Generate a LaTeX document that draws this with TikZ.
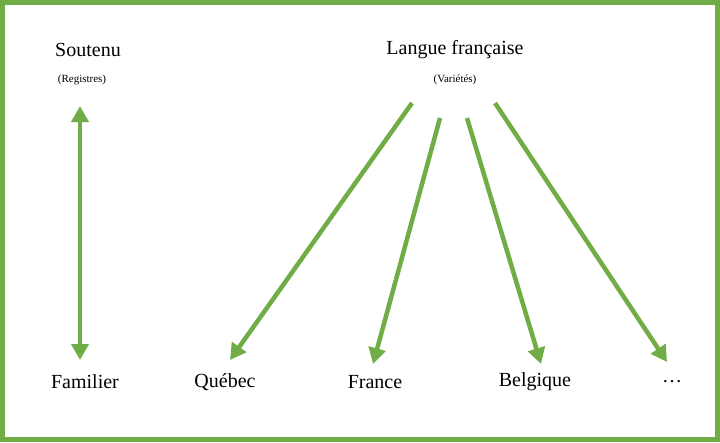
\documentclass[tikz,border=0pt]{standalone}
\usepackage{fontspec}
\setmainfont{Liberation Serif}
\usetikzlibrary{arrows.meta}
\definecolor{grn}{HTML}{70AD47}
\begin{document}
\begin{tikzpicture}[x=1pt,y=-1pt,
  lbl/.style={font=\fontsize{20}{24}\selectfont,inner sep=0pt},
  sub/.style={font=\fontsize{11}{13}\selectfont,inner sep=0pt},
  arr/.style={draw=grn,line width=4.5pt,-{Triangle[length=16pt,width=17pt]}},
  darr/.style={draw=grn,line width=4.5pt,{Triangle[length=16pt,width=17pt]}-{Triangle[length=16pt,width=17pt]}}]
\useasboundingbox (0,0) rectangle (720,442);
\draw[grn,line width=5pt] (2.5,2.5) rectangle (717.5,439.5);
\node[lbl] (sout) at (88,50) {Soutenu};
\node[sub] (reg) at (82,80) {(Registres)};
\node[lbl] (lang) at (455,50) {Langue française};
\node[sub] (var) at (455,80) {(Variétés)};
\node[lbl] (fam) at (85,382) {Familier};
\node[lbl] (que) at (225,382) {Québec};
\node[lbl] (fra) at (375,382) {France};
\node[lbl] (bel) at (535,382) {Belgique};
\node[lbl] (etc) at (672,382) {…};
\coordinate (s1) at (412,103);
\coordinate (s2) at (440,118);
\coordinate (s3) at (467,118);
\coordinate (s4) at (495,103);
\coordinate (e1) at (230,360);
\coordinate (e2) at (373,364);
\coordinate (e3) at (541,364);
\coordinate (e4) at (667,362);
\coordinate (d1) at (80,106);
\coordinate (d2) at (80,360);
\draw[darr] (d1) -- (d2);
\draw[arr] (s1) -- (e1);
\draw[arr] (s2) -- (e2);
\draw[arr] (s3) -- (e3);
\draw[arr] (s4) -- (e4);
\end{tikzpicture}
\end{document}
